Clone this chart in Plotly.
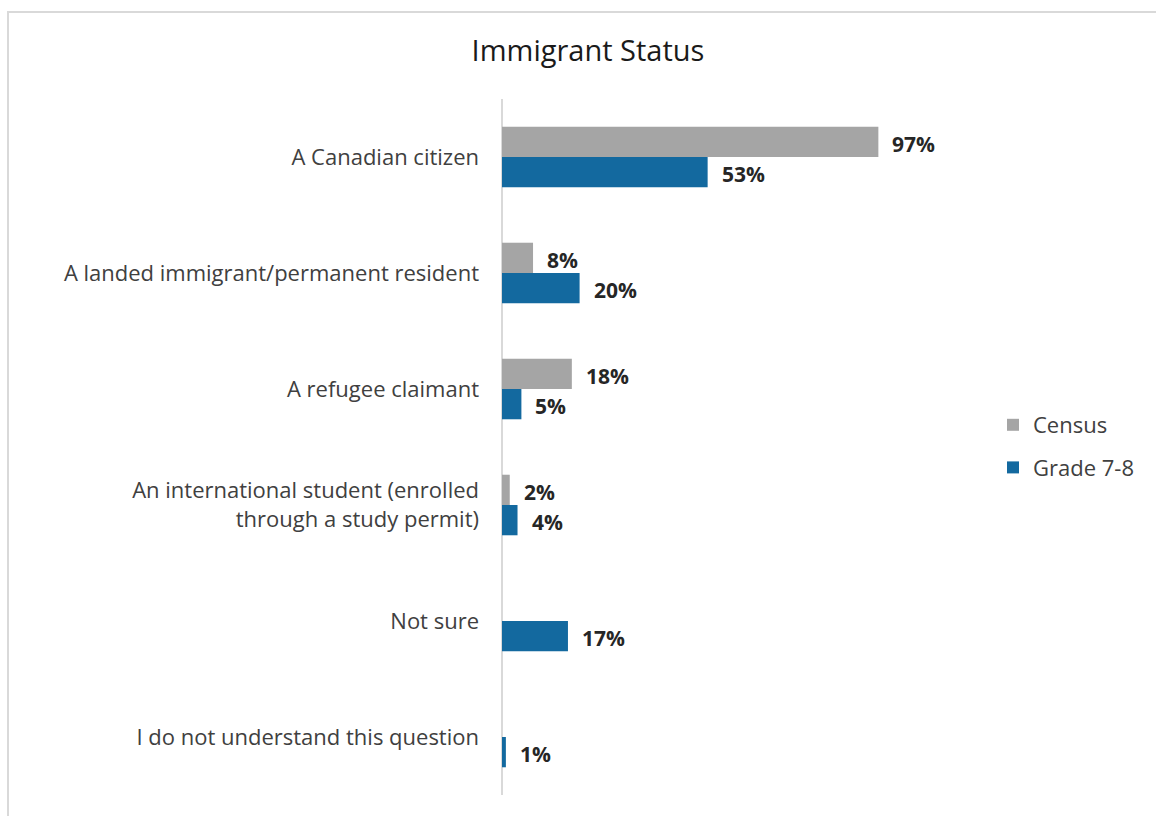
import plotly.graph_objects as go

# Survey categories (top to bottom) and percentages per group
categories = [
    "A Canadian citizen",
    "A landed immigrant/permanent resident",
    "A refugee claimant",
    "An international student (enrolled<br>through a study permit)",
    "Not sure",
    "I do not understand this question",
]
census = [97, 8, 18, 2, None, None]
grade_7_8 = [53, 20, 5, 4, 17, 1]

CENSUS_COLOR = "#a5a5a5"
GRADE_COLOR = "#13699f"
TEXT_COLOR = "#404040"
LABEL_COLOR = "#262626"
FONT = "'Open Sans', Lato, sans-serif"

# plot area in pixels
W, H = 1156, 816
L, R, T, B = 502, 266, 99, 21
pw, ph = W - L - R, H - T - B

BARGAP = 0.478
HALF = (1 - BARGAP) / 4  # offset of each bar's centre from its category centre


def px_x(x):
    return (x - L) / pw


def px_y(y):
    return (H - B - y) / ph


fig = go.Figure()
fig.add_trace(go.Bar(
    y=categories, x=census, name="Census", orientation="h",
    marker=dict(color=CENSUS_COLOR, line=dict(width=0)),
    legendgroup="a",
))
fig.add_trace(go.Bar(
    y=categories, x=grade_7_8, name="Grade 7-8", orientation="h",
    marker=dict(color=GRADE_COLOR, line=dict(width=0)),
    legendgroup="b",
))

# value labels to the right of each bar
annotations = []
for name, vals in (("Census", census), ("Grade 7-8", grade_7_8)):
    offset = -HALF if name == "Census" else HALF
    for i, v in enumerate(vals):
        if v is None:
            continue
        annotations.append(dict(
            x=v, y=i + offset, xref="x", yref="y",
            text=f"<b>{v}%</b>", showarrow=False,
            xanchor="left", yanchor="middle", xshift=12, yshift=-2,
            font=dict(family=FONT, size=21, color=LABEL_COLOR),
        ))

fig.update_layout(
    width=W, height=H,
    margin=dict(l=L, r=R, t=T, b=B, autoexpand=False),
    paper_bgcolor="white", plot_bgcolor="white",
    barmode="group", bargap=BARGAP, bargroupgap=0,
    title=dict(
        text="Immigrant Status", x=px_x(588), xref="paper", xanchor="center",
        y=1 - 51 / H, yref="container", yanchor="middle",
        font=dict(family=FONT, size=29, color="#1a1a1a"),
    ),
    xaxis=dict(range=[0, 100], visible=False, fixedrange=True),
    yaxis=dict(
        type="category", categoryorder="array", categoryarray=categories,
        autorange="reversed", showgrid=False, zeroline=False,
        showline=False, ticks="", ticklabelstandoff=22,
        tickfont=dict(family=FONT, size=22, color=TEXT_COLOR),
    ),
    legend=dict(
        x=px_x(993), y=px_y(404), xanchor="left", yanchor="top",
        orientation="v", traceorder="grouped", tracegroupgap=11,
        font=dict(family=FONT, size=22, color=TEXT_COLOR),
        itemwidth=30, bgcolor="rgba(0,0,0,0)",
    ),
    annotations=annotations,
    shapes=[
        # outer frame
        dict(type="rect", xref="paper", yref="paper",
             x0=px_x(8), x1=px_x(1170), y0=px_y(830), y1=px_y(12),
             line=dict(color="#d9d9d9", width=2), fillcolor="rgba(0,0,0,0)",
             layer="below"),
        # category axis line
        dict(type="line", xref="paper", yref="paper",
             x0=px_x(502), x1=px_x(502), y0=px_y(795), y1=px_y(99),
             line=dict(color="#d9d9d9", width=2), layer="below"),
    ],
    showlegend=True,
)

fig.write_html("out.html")
